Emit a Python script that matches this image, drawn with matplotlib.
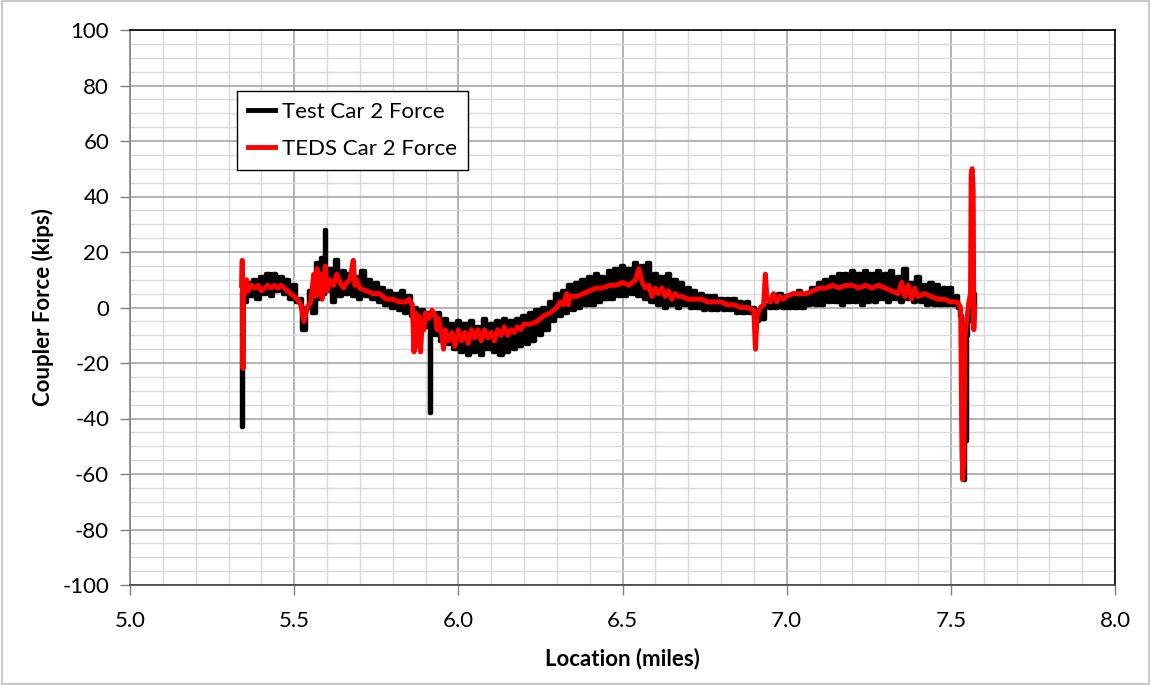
import numpy as np
import matplotlib.pyplot as plt
from matplotlib.ticker import MultipleLocator
from matplotlib.patches import Rectangle

plt.rcParams['font.family'] = ['Lato', 'DejaVu Sans']

# Test Car 2 Force (black)
test_x = [5.340, 5.342, 5.344, 5.346, 5.350, 5.36, 5.37, 5.38, 5.39, 5.40, 5.41, 5.42, 5.43, 5.44, 5.45,
          5.46, 5.47, 5.48, 5.49, 5.50, 5.51, 5.52, 5.53, 5.54, 5.55, 5.56, 5.57, 5.58, 5.585, 5.59, 5.595,
          5.60, 5.61, 5.62, 5.63, 5.64, 5.65, 5.66, 5.67, 5.68, 5.69, 5.70, 5.71, 5.72, 5.73, 5.74, 5.75,
          5.76, 5.77, 5.78, 5.79, 5.80, 5.81, 5.82, 5.83, 5.84, 5.85, 5.86, 5.87, 5.88, 5.89, 5.90, 5.91,
          5.915, 5.92, 5.93, 5.94, 5.95, 5.96, 5.97, 5.98, 5.99, 6.00, 6.01, 6.02, 6.03, 6.04, 6.05, 6.06,
          6.07, 6.08, 6.09, 6.10, 6.11, 6.12, 6.13, 6.14, 6.15, 6.16, 6.17, 6.18, 6.19, 6.20, 6.21, 6.22,
          6.23, 6.24, 6.25, 6.26, 6.27, 6.28, 6.29, 6.30, 6.31, 6.32, 6.33, 6.34, 6.35, 6.36, 6.37, 6.38,
          6.39, 6.40, 6.41, 6.42, 6.43, 6.44, 6.45, 6.46, 6.47, 6.48, 6.49, 6.50, 6.51, 6.52, 6.53, 6.54,
          6.55, 6.56, 6.57, 6.58, 6.59, 6.60, 6.61, 6.62, 6.63, 6.64, 6.65, 6.66, 6.67, 6.68, 6.69, 6.70,
          6.71, 6.72, 6.73, 6.74, 6.75, 6.76, 6.77, 6.78, 6.79, 6.80, 6.81, 6.82, 6.83, 6.84, 6.85, 6.86,
          6.87, 6.88, 6.89, 6.90, 6.91, 6.92, 6.93, 6.94, 6.95, 6.96, 6.97, 6.98, 6.99, 7.00, 7.01, 7.02,
          7.03, 7.04, 7.05, 7.06, 7.07, 7.08, 7.09, 7.10, 7.11, 7.12, 7.13, 7.14, 7.15, 7.16, 7.17, 7.18,
          7.19, 7.20, 7.21, 7.22, 7.23, 7.24, 7.25, 7.26, 7.27, 7.28, 7.29, 7.30, 7.31, 7.32, 7.33, 7.34,
          7.35, 7.36, 7.37, 7.38, 7.39, 7.40, 7.41, 7.42, 7.43, 7.44, 7.45, 7.46, 7.47, 7.48, 7.49, 7.50,
          7.51, 7.52, 7.525, 7.53, 7.535, 7.540, 7.545, 7.548, 7.550, 7.555, 7.560, 7.565, 7.570, 7.575]
test_y = [5, -43, -22, 6, 2, 9, 4, 10, 3, 11, 5, 12, 4, 12, 6,
          11, 5, 10, 3, 8, 2, 3, -8, 0, 6, -2, 16, 3, 18, 5, 28,
          6, 14, 2, 17, 4, 13, 5, 12, 4, 11, 3, 13, 4, 10, 3, 9,
          2, 7, 1, 6, 0, 5, -1, 6, -2, 4, -3, 0, -5, -1, -7, -2,
          -38, -4, -10, -2, -12, -4, -13, -6, -15, -5, -16, -6, -17, -5, -16, -7,
          -17, -4, -15, -6, -16, -5, -17, -4, -16, -5, -15, -4, -14, -3, -13, -2,
          -12, -1, -10, 0, -8, 2, -5, 5, -3, 6, -2, 8, -1, 9, 0, 10,
          1, 11, 1, 12, 2, 11, 3, 13, 3, 14, 4, 15, 4, 14, 5, 16,
          4, 15, 3, 16, 2, 12, 1, 11, 0, 12, 1, 10, 0, 9, 1, 7,
          0, 6, 0, 5, -1, 4, -1, 4, -1, 3, -1, 3, -1, 3, -2, 2,
          -2, 2, -2, 0, -5, -1, -4, 1, 0, 4, 0, 5, 0, 4, 0, 5,
          0, 6, 0, 5, 1, 7, 1, 9, 1, 10, 2, 11, 2, 12, 1, 12,
          2, 13, 2, 12, 1, 13, 2, 12, 2, 13, 3, 12, 2, 13, 3, 11,
          2, 14, 3, 9, 2, 11, 2, 8, 1, 9, 1, 8, 1, 7, 1, 7,
          1, 4, 0, -3, -55, -62, -40, -48, -10, -5, 2, -2, 5, 0]

# TEDS Car 2 Force (red)
teds_x = [5.340, 5.342, 5.344, 5.346, 5.35, 5.355, 5.36, 5.37, 5.38, 5.39, 5.40, 5.41, 5.42, 5.43, 5.44,
          5.45, 5.46, 5.47, 5.48, 5.49, 5.50, 5.51, 5.52, 5.53, 5.54, 5.55, 5.56, 5.565, 5.57, 5.575,
          5.58, 5.585, 5.59, 5.595, 5.60, 5.61, 5.62, 5.63, 5.64, 5.65, 5.66, 5.67, 5.68, 5.685, 5.69,
          5.70, 5.72, 5.74, 5.76, 5.78, 5.80, 5.82, 5.84, 5.85, 5.86, 5.865, 5.87, 5.875, 5.88, 5.885,
          5.89, 5.895, 5.90, 5.91, 5.92, 5.93, 5.935, 5.94, 5.95, 5.955, 5.96, 5.97, 5.98, 5.99, 6.00,
          6.01, 6.02, 6.03, 6.04, 6.05, 6.06, 6.07, 6.08, 6.09, 6.10, 6.11, 6.12, 6.13, 6.14, 6.15,
          6.16, 6.17, 6.18, 6.19, 6.20, 6.22, 6.24, 6.26, 6.28, 6.30, 6.31, 6.32, 6.33, 6.335, 6.34,
          6.36, 6.38, 6.40, 6.42, 6.44, 6.46, 6.48, 6.50, 6.52, 6.54, 6.55, 6.56, 6.57, 6.58, 6.59,
          6.60, 6.61, 6.62, 6.63, 6.64, 6.65, 6.66, 6.67, 6.68, 6.70, 6.72, 6.74, 6.76, 6.78, 6.80,
          6.82, 6.84, 6.86, 6.88, 6.90, 6.905, 6.91, 6.92, 6.93, 6.935, 6.94, 6.95, 6.96, 6.97, 6.98,
          6.99, 7.00, 7.02, 7.04, 7.06, 7.08, 7.10, 7.12, 7.14, 7.16, 7.18, 7.20, 7.22, 7.24, 7.26,
          7.28, 7.30, 7.32, 7.34, 7.35, 7.36, 7.37, 7.38, 7.39, 7.40, 7.42, 7.44, 7.46, 7.48, 7.50,
          7.52, 7.53, 7.533, 7.536, 7.540, 7.543, 7.547, 7.550, 7.555, 7.560, 7.562, 7.565, 7.568, 7.570, 7.572]
teds_y = [8, 17, -22, 8, 5, 10, 6, 8, 7, 8, 6, 7, 8, 7, 8,
          7, 8, 7, 6, 5, 4, 3, 1, -5, 0, 2, 12, 4, 14, 5,
          12, 3, 8, 15, 6, 10, 8, 12, 9, 7, 9, 10, 17, 8, 10,
          7, 6, 5, 5, 3, 3, 2, 2, 3, 1, -16, -2, -14, -3, -16,
          -5, -8, -2, -4, -1, -3, -8, -4, -10, -15, -8, -12, -9, -14, -8,
          -12, -9, -13, -8, -11, -8, -12, -8, -11, -9, -12, -8, -10, -7, -10,
          -8, -9, -7, -8, -6, -6, -5, -3, -2, 0, 2, 1, 5, 1, 4,
          4, 5, 6, 7, 7, 8, 8, 9, 8, 10, 14, 9, 7, 8, 4,
          7, 5, 7, 4, 6, 3, 5, 4, 4, 3, 3, 3, 2, 2, 2,
          1, 1, 0, 0, -1, -15, -3, 0, 1, 12, 3, 2, 5, 2, 4,
          3, 4, 5, 5, 5, 6, 7, 7, 8, 7, 8, 8, 7, 8, 7,
          8, 7, 6, 5, 9, 4, 8, 3, 7, 4, 5, 4, 3, 3, 2,
          2, 0, -40, -62, -55, -10, -6, -3, 2, 5, 48, 50, 42, -8, 0]

W, H = 1151, 685
fig = plt.figure(figsize=(W / 100, H / 100), dpi=100)
ax = fig.add_axes([130 / W, 100 / H, 985 / W, 555 / H])

# steps so the dense black noise merges into a solid band like the original
ax.plot(test_x, test_y, color='black', lw=3.2, drawstyle='steps-mid', label='Test Car 2 Force', zorder=3)
ax.plot(teds_x, teds_y, color='#ff0000', lw=3.6, label='TEDS Car 2 Force', zorder=4)

ax.set_xlim(5.0, 8.0)
ax.set_ylim(-100, 100)
ax.xaxis.set_major_locator(MultipleLocator(0.5))
ax.xaxis.set_minor_locator(MultipleLocator(0.1))
ax.yaxis.set_major_locator(MultipleLocator(20))
ax.yaxis.set_minor_locator(MultipleLocator(5))
ax.xaxis.set_major_formatter(lambda v, p: f'{v:.1f}')
ax.yaxis.set_major_formatter(lambda v, p: f'{v:.0f}')

ax.grid(which='major', color='#a6a6a6', lw=1.2, zorder=0)
ax.grid(which='minor', color='#d9d9d9', lw=1.0, zorder=0)
ax.set_axisbelow(True)

ax.tick_params(which='major', direction='out', length=7, width=1, color='#808080', labelsize=16)
ax.tick_params(axis='x', pad=12)
ax.tick_params(axis='y', pad=8)
ax.tick_params(which='minor', length=0)
for s in ax.spines.values():
    s.set_color('black')
    s.set_linewidth(1.2)
ax.spines['left'].set_color('#7f7f7f')
ax.spines['bottom'].set_color('#404040')

ax.set_xlabel('Location (miles)', fontsize=16, fontweight='bold', labelpad=12)
ax.set_ylabel('Coupler Force (kips)', fontsize=16, fontweight='bold', labelpad=6)

leg = ax.legend(loc='upper left', bbox_to_anchor=(0.109, 0.89), fontsize=16, frameon=True,
                fancybox=False, edgecolor='black', framealpha=1, handlelength=1.2,
                handletextpad=0.3, borderpad=0.5, labelspacing=0.75, borderaxespad=0)
leg.get_frame().set_linewidth(1.0)
for line in leg.get_lines():
    line.set_linewidth(3.5)
    line.set_drawstyle('default')

fig.patches.append(Rectangle((0.002, 0.002), 0.996, 0.996, transform=fig.transFigure,
                             fill=False, edgecolor='#bfbfbf', lw=1.2))

fig.savefig('out.png', dpi=100)
